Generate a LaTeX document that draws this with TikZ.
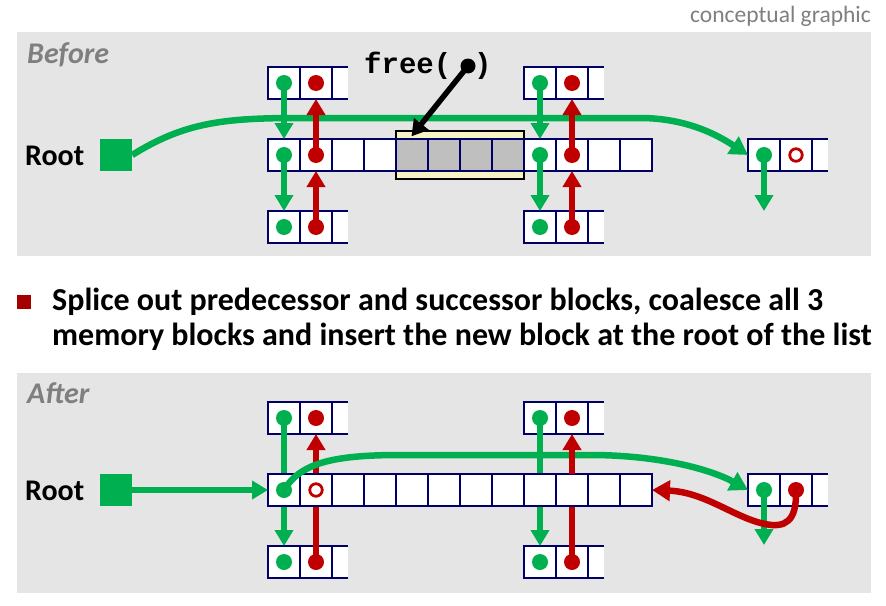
\documentclass[tikz,border=0pt]{standalone}
\usepackage{fontspec}
\setmainfont{Carlito}
\newfontfamily\monob{Liberation Mono}
\usetikzlibrary{arrows.meta,calc}
\definecolor{gr}{HTML}{00B050}
\definecolor{rd}{HTML}{C00000}
\definecolor{bgc}{HTML}{E5E5E5}
\definecolor{nv}{HTML}{000066}
\definecolor{yl}{HTML}{F8F3C4}
\definecolor{gc}{HTML}{BFBFBF}
\definecolor{txtgray}{HTML}{7F7F7F}
\definecolor{bul}{HTML}{A50000}
\tikzset{
 cell/.style={draw=nv, fill=white, line width=1.2pt, minimum width=32pt, minimum height=32pt, inner sep=0pt, outer sep=0pt},
 gcell/.style={cell, fill=gc},
 halfcell/.style={fill=white, minimum width=16pt, minimum height=32pt, inner sep=0pt, outer sep=0pt},
 gdot/.style={circle, fill=gr, minimum size=16pt, inner sep=0pt},
 rdot/.style={circle, fill=rd, minimum size=16pt, inner sep=0pt},
 rring/.style={circle, draw=rd, line width=2.8pt, minimum size=12.5pt, inner sep=0pt},
 tipv/.style={-{Triangle[width=18pt,length=16pt]}},
 garr/.style={draw=gr, line width=5.5pt, tipv},
 rarr/.style={draw=rd, line width=5.5pt, tipv},
 rline/.style={draw=rd, line width=5.5pt},
 bigg/.style={draw=gr, line width=6.5pt, -{Triangle[width=20pt,length=18pt]}},
 bigr/.style={draw=rd, line width=6.5pt, -{Triangle[width=20pt,length=18pt]}},
 panel/.style={fill=bgc, draw=none},
 rootsq/.style={fill=gr, minimum size=32pt, inner sep=0pt},
 roottxt/.style={font=\bfseries\fontsize{30}{36}\selectfont, anchor=base west, inner sep=0pt},
 paneltitle/.style={font=\bfseries\itshape\fontsize{30}{35}\selectfont, text=txtgray, anchor=base west, inner sep=0pt},
 bultxt/.style={font=\bfseries\fontsize{32}{38}\selectfont, anchor=base west, inner sep=0pt},
 monotxt/.style={font=\monob\bfseries\fontsize{29}{34}\selectfont, anchor=base west, inner sep=0pt},
}
\newcommand\blk[3]{%
 \node[halfcell] (#1c) at (#2+56,#3) {};
 \draw[draw=nv,line width=1.2pt] (#1c.north west) -- (#1c.north east) (#1c.south west) -- (#1c.south east);
 \node[cell] (#1a) at (#2,#3) {};
 \node[cell] (#1b) at (#2+32,#3) {};
}
\begin{document}
\begin{tikzpicture}[x=1pt,y=-1pt]
\useasboundingbox (0,0) rectangle (886,605);
% header
\node[font=\fontsize{23.5}{28}\selectfont, text=txtgray, anchor=base east, inner sep=0pt] (cg) at (871,23) {conceptual graphic};
% ================= BEFORE =================
\path[panel] (17,32) rectangle (871,256);
\node[paneltitle] (before) at (27,63) {Before};
\node[rootsq] (rootB) at (116,155) {};
\node[roottxt] (rootTB) at (25,165) {Root};
% cells
\node[draw=black, fill=yl, line width=1.2pt, minimum width=128pt, minimum height=48pt, inner sep=0pt] (yel) at (460,155) {};
\foreach \i in {0,...,11}{
  \ifnum\i>3 \ifnum\i<8
    \node[gcell] (m\i) at (284+32*\i,155) {};
  \else
    \node[cell] (m\i) at (284+32*\i,155) {};
  \fi\else
    \node[cell] (m\i) at (284+32*\i,155) {};
  \fi
}
\blk{TL}{284}{83}
\blk{BL}{284}{227}
\blk{TR}{540}{83}
\blk{BR}{540}{227}
\blk{R}{764}{155}
% big green curve
\draw[bigg] (rootB.east) .. controls (185,122) and (225,118) .. (300,118) -- (640,118) .. controls (690,118) and (722,138) .. (Ra.west);
% vertical arrows
\draw[garr] (TLa.center) -- (m0.north);
\draw[garr] (m0.center) -- (BLa.north);
\draw[rarr] (m1.center) -- (TLb.south);
\draw[rarr] (BLb.center) -- (m1.south);
\draw[garr] (TRa.center) -- (m8.north);
\draw[garr] (m8.center) -- (BRa.north);
\draw[rarr] (m9.center) -- (TRb.south);
\draw[rarr] (BRb.center) -- (m9.south);
\coordinate (rdown) at (764,211);
\draw[garr] (Ra.center) -- (rdown);
% dots
\foreach \n in {TLa,BLa,TRa,BRa,m0,m8,Ra}{ \node[gdot] at (\n) {}; }
\foreach \n in {TLb,BLb,TRb,BRb,m1,m9}{ \node[rdot] at (\n) {}; }
\node[rring] (ringB) at (Rb) {};
% free()
\node[monotxt] (freeT) at (364,73) {free(};
\node[monotxt] (freeP) at (474,73) {)};
\node[circle, fill=black, minimum size=15pt, inner sep=0pt] (fdot) at (468,66) {};
\coordinate (ftip) at ($(yel.north west)+(16,6)$);
\draw[line width=5.5pt, tipv] (fdot.center) -- (ftip);
% ================= bullet =================
\node[fill=bul, minimum size=14pt, inner sep=0pt] (bsq) at (24,302) {};
\node[bultxt] (l1) at (52,310) {Splice out predecessor and successor blocks, coalesce all 3};
\node[bultxt] (l2) at (52,345) {memory blocks and insert the new block at the root of the list};
% ================= AFTER =================
\path[panel] (17,373) rectangle (871,593);
\node[paneltitle] (after) at (27,403) {After};
\node[rootsq] (rootA) at (116,490) {};
\node[roottxt] (rootTA) at (25,500) {Root};
\blk{aTL}{284}{418}
\blk{aBL}{284}{562}
\blk{aTR}{540}{418}
\blk{aBR}{540}{562}
\blk{aR}{764}{490}
% vertical lines behind the row
\draw[garr] (aTLa.center) -- (aBLa.north);
\draw[rarr] (aBLb.center) -- (aTLb.south);
\draw[garr] (aTRa.center) -- (aBRa.north);
\draw[rline] (aBRb.center) -- (572,480);
\foreach \i in {0,...,11}{ \node[cell] (am\i) at (284+32*\i,490) {}; }
\draw[garr] (rootA.east) -- (am0.west);
% big green curve
\draw[bigg] (am0.center) .. controls (300,464) and (330,455) .. (400,455) -- (590,455) .. controls (660,455) and (712,470) .. (aRa.west);
\draw[rarr] (am9.north) -- (aTRb.south);
% right block arrows
\coordinate (adown) at (764,545);
\draw[garr] (aRa.center) -- (adown);
\draw[bigr] (aRb.center) .. controls (797,522) and (785,528) .. (765,524) .. controls (735,518) and (705,492) .. (am11.east);
% dots
\foreach \n in {aTLa,aBLa,aTRa,aBRa,am0,aRa}{ \node[gdot] at (\n) {}; }
\foreach \n in {aTLb,aBLb,aTRb,aBRb,aRb}{ \node[rdot] at (\n) {}; }
\node[rring] (ringA) at (am1) {};
\end{tikzpicture}
\end{document}
